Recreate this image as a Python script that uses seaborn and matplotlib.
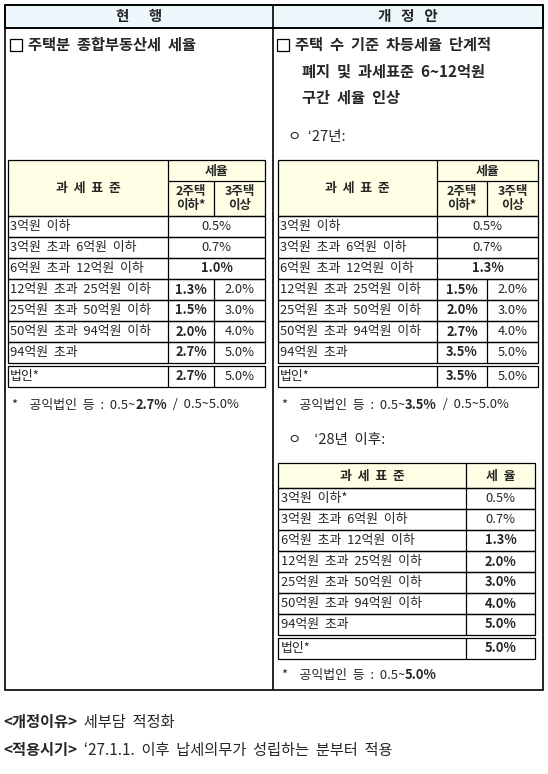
import matplotlib
matplotlib.use("Agg")
import matplotlib.pyplot as plt
import seaborn as sns
from matplotlib.patches import Rectangle

sns.set_theme(style="white")
plt.rcParams['font.family'] = ['Noto Sans CJK KR', 'DejaVu Sans']

brackets = ["3억원 이하", "3억원 초과 6억원 이하", "6억원 초과 12억원 이하",
            "12억원 초과 25억원 이하", "25억원 초과 50억원 이하", "50억원 초과 94억원 이하",
            "94억원 초과", "법인*"]
cur_2 = [0.5, 0.7, 1.0, 1.3, 1.5, 2.0, 2.7, 2.7]
cur_3 = [None, None, None, 2.0, 3.0, 4.0, 5.0, 5.0]
y27_2 = [0.5, 0.7, 1.3, 1.5, 2.0, 2.7, 3.5, 3.5]
y27_3 = [None, None, None, 2.0, 3.0, 4.0, 5.0, 5.0]
y28 = [0.5, 0.7, 1.3, 2.0, 3.0, 4.0, 5.0, 5.0]
brackets28 = ["3억원 이하*"] + brackets[1:]

fig = plt.figure(figsize=(5.48, 7.74), dpi=100)
ax = fig.add_axes([0, 0, 1, 1])
ax.set_xlim(0, 548); ax.set_ylim(774, 0); ax.axis("off")

K = "black"
YEL = "#ffffe6"
BLUE = "#eef7fb"
FS = 9.3

def sp(s):
    return s.replace(" ", "  ")

def line(x0, y0, x1, y1, lw=0.9):
    ax.plot([x0, x1], [y0, y1], color=K, lw=lw, solid_capstyle="butt")

def box(x0, y0, x1, y1, fc="none", lw=0.9):
    ax.add_patch(Rectangle((x0, y0), x1 - x0, y1 - y0, fc=fc, ec=K, lw=lw))

def t(x, y, s, ha="left", bold=False, size=FS):
    ax.text(x, y, s, ha=ha, va="center", fontsize=size,
            fontweight="bold" if bold else "normal")

def pct(v):
    return f"{v:.1f}%"

box(5, 5, 543, 28, fc=BLUE, lw=1.2)
box(5, 5, 543, 690, lw=1.2)
line(5, 28, 543, 28, 1.2)
line(273, 5, 273, 690, 1.2)
t(139, 16, "현      행", "center", True, 10.5)
t(408, 16, "개   정   안", "center", True, 10.5)

def sq(x, y):
    ax.add_patch(Rectangle((x, y - 6), 12, 12, fc="none", ec=K, lw=0.9))

TS = 11
sq(10, 45); t(28, 45, sp("주택분 종합부동산세 세율"), bold=True, size=TS)
sq(277, 45); t(295, 45, sp("주택 수 기준 차등세율 단계적"), bold=True, size=TS)
t(302, 72, sp("폐지 및 과세표준 6~12억원"), bold=True, size=TS)
t(302, 98, sp("구간 세율 인상"), bold=True, size=TS)
t(288, 137, "ㅇ  ‘27년:", size=10.5)

def rate_table(x0, c1, c2, x1, v2, v3, bold2):
    top, h1, h2 = 160, 181, 216
    rh = 21
    box(x0, top, x1, h2, fc=YEL)
    line(c1, h1, x1, h1); line(c1, top, c1, h2); line(c2, h1, c2, h2)
    t((x0 + c1) / 2, (top + h2) / 2, "과  세  표  준", "center", True)
    t((c1 + x1) / 2, (top + h1) / 2, "세율", "center", True)
    t((c1 + c2) / 2, (h1 + h2) / 2, "2주택\n이하*", "center", True, 9)
    t((c2 + x1) / 2, (h1 + h2) / 2, "3주택\n이상", "center", True, 9)
    y = h2
    for i, lab in enumerate(brackets):
        if i == 7:
            y += 3
        yb = y + rh
        box(x0, y, x1, yb)
        line(c1, y, c1, yb)
        t(x0 + 2, (y + yb) / 2, sp(lab))
        if v3[i] is None:
            t((c1 + x1) / 2, (y + yb) / 2, pct(v2[i]), "center", i == 2)
        else:
            line(c2, y, c2, yb)
            t((c1 + c2) / 2, (y + yb) / 2, pct(v2[i]), "center", bold2)
            t((c2 + x1) / 2, (y + yb) / 2, pct(v3[i]), "center")
        y = yb

rate_table(8, 168, 214, 265, cur_2, cur_3, True)
rate_table(278, 437, 487, 538, y27_2, y27_3, True)

def foot(x, y, parts, size=FS):
    r = fig.canvas.get_renderer()
    for s, b in parts:
        tx = ax.text(x, y, s, ha="left", va="center", fontsize=size,
                     fontweight="bold" if b else "normal")
        x += tx.get_window_extent(r).width

foot(12, 405, [(sp("*  공익법인 등 : 0.5~"), False), ("2.7%", True), ("  /  0.5~5.0%", False)])
foot(282, 405, [(sp("*  공익법인 등 : 0.5~"), False), ("3.5%", True), ("  /  0.5~5.0%", False)])

t(288, 440, sp("ㅇ  ‘28년 이후:"), size=10.5)
x0, c1, x1 = 278, 466, 535
top, hb, rh = 463, 488, 21
box(x0, top, x1, hb, fc=YEL)
line(c1, top, c1, hb)
t((x0 + c1) / 2, (top + hb) / 2, "과  세  표  준", "center", True)
t((c1 + x1) / 2, (top + hb) / 2, "세  율", "center", True)
y = hb
for i, lab in enumerate(brackets28):
    if i == 7:
        y += 3
    yb = y + rh
    box(x0, y, x1, yb); line(c1, y, c1, yb)
    t(x0 + 3, (y + yb) / 2, sp(lab))
    t((c1 + x1) / 2, (y + yb) / 2, pct(y28[i]), "center", i >= 2)
    y = yb

foot(282, 675, [(sp("*  공익법인 등 : 0.5~"), False), ("5.0%", True)])

foot(3, 722, [("<개정이유>", True), (sp(" 세부담 적정화"), False)], 11)
foot(3, 750, [("<적용시기>", True), (sp(" ‘27.1.1. 이후 납세의무가 성립하는 분부터 적용"), False)], 11)

fig.savefig("out.png", dpi=100)
